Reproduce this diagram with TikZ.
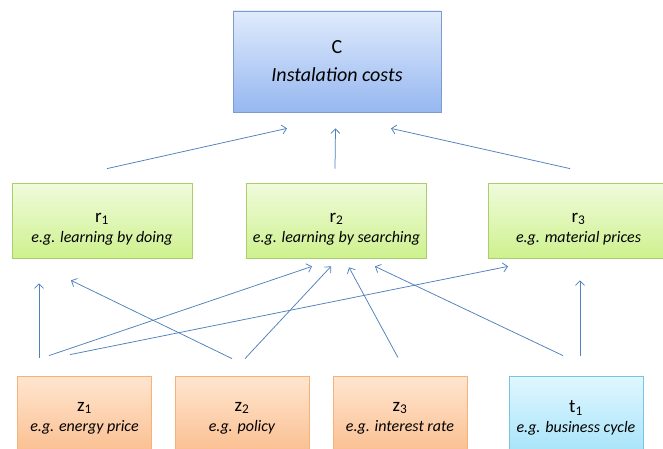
\documentclass[tikz,border=0pt]{standalone}
\usepackage{fontspec}
\setmainfont{Carlito}
\usetikzlibrary{arrows.meta,shadows}
\definecolor{costTop}{RGB}{224,235,252}
\definecolor{costBot}{RGB}{150,183,240}
\definecolor{costLine}{RGB}{125,155,205}
\definecolor{rateTop}{RGB}{240,251,220}
\definecolor{rateBot}{RGB}{206,241,142}
\definecolor{rateLine}{RGB}{170,205,110}
\definecolor{drvTop}{RGB}{255,230,208}
\definecolor{drvBot}{RGB}{250,187,138}
\definecolor{drvLine}{RGB}{246,178,120}
\definecolor{cycTop}{RGB}{224,247,255}
\definecolor{cycBot}{RGB}{162,226,248}
\definecolor{cycLine}{RGB}{122,196,226}
\definecolor{linkBlue}{RGB}{79,129,189}
% name line (with a strut of height #3) over an italic example line
\newcommand{\BoxLabel}[3]{%
{\fontsize{19}{20}\selectfont\rule{0pt}{#3}#1}\\{\fontsize{16}{20}\selectfont\itshape #2}}

\begin{document}
\begin{tikzpicture}[x=1pt,y=-1pt,
  box/.style={line width=0.8pt,align=center,inner sep=2pt,
    font=\fontsize{16}{20}\selectfont,
    drop shadow={shadow xshift=0.6pt,shadow yshift=-1.4pt,opacity=0.35}},
  costbox/.style={box,draw=costLine,top color=costTop,bottom color=costBot,
    minimum width=208pt,minimum height=101pt,font=\fontsize{20}{28}\selectfont},
  ratebox/.style={box,draw=rateLine,top color=rateTop,bottom color=rateBot,
    minimum width=180pt,minimum height=75pt},
  drvbox/.style={box,draw=drvLine,top color=drvTop,bottom color=drvBot,
    minimum width=134pt,minimum height=84pt},
  cycbox/.style={box,draw=cycLine,top color=cycTop,bottom color=cycBot,
    minimum width=134pt,minimum height=84pt},
  link/.style={-{Straight Barb[length=4.5pt,width=9pt]},draw=linkBlue,line width=0.75pt}]
\clip (0,0) rectangle (663,449);
\fill[white] (0,0) rectangle (663,449);
% cost
\node[costbox] (C) at (337,61.5) {C\\\itshape Instalation costs};
% learning rates
\node[ratebox] (r1) at (102,220.5) {\BoxLabel{r\textsubscript{1}}{e.g. learning by doing}{26pt}};
\node[ratebox] (r2) at (336.5,220.5) {\BoxLabel{r\textsubscript{2}}{e.g. learning by searching}{26pt}};
\node[ratebox] (r3) at (578.5,220.5) {\BoxLabel{r\textsubscript{3}}{e.g. material prices}{26pt}};
% drivers
\node[drvbox] (z1) at (84.5,418) {\BoxLabel{z\textsubscript{1}}{e.g. energy price}{0pt}};
\node[drvbox] (z2) at (242,418) {\BoxLabel{z\textsubscript{2}}{e.g. policy}{0pt}};
\node[drvbox] (z3) at (400,418) {\BoxLabel{z\textsubscript{3}}{e.g. interest rate}{0pt}};
\node[cycbox] (t1) at (576,418) {\BoxLabel{t\textsubscript{1}}{e.g. business cycle}{0pt}};

% rates to cost
\draw[link] ([xshift=5pt,yshift=14pt]r1.north) -- ([xshift=-50pt,yshift=-16pt]C.south);
\draw[link] ([xshift=-1.5pt,yshift=14pt]r2.north) -- ([xshift=-1.5pt,yshift=-16pt]C.south);
\draw[link] ([xshift=-8.5pt,yshift=14pt]r3.north) -- ([xshift=54pt,yshift=-16pt]C.south);

% drivers to rates
\draw[link] ([xshift=-45.5pt,yshift=18pt]z1.north) -- ([xshift=-63pt,yshift=-25pt]r1.south);
\draw[link] ([xshift=-35.5pt,yshift=20pt]z1.north) -- ([xshift=-24.5pt,yshift=-8pt]r2.south);
\draw[link] ([xshift=-14.5pt,yshift=21pt]z1.north) -- ([xshift=-70.5pt,yshift=-8pt]r3.south);
\draw[link] ([xshift=-10pt,yshift=17pt]z2.north) -- ([xshift=-31pt,yshift=-22pt]r1.south);
\draw[link] ([xshift=3pt,yshift=17pt]z2.north) -- ([xshift=-5.5pt,yshift=-8pt]r2.south);
\draw[link] ([xshift=-2pt,yshift=18pt]z3.north) -- ([xshift=12.5pt,yshift=-9pt]r2.south);
\draw[link] ([xshift=-13pt,yshift=20pt]t1.north) -- ([xshift=38.5pt,yshift=-8pt]r2.south);
\draw[link] ([xshift=4pt,yshift=20pt]t1.north) -- ([xshift=1.5pt,yshift=-22pt]r3.south);
\end{tikzpicture}
\end{document}
